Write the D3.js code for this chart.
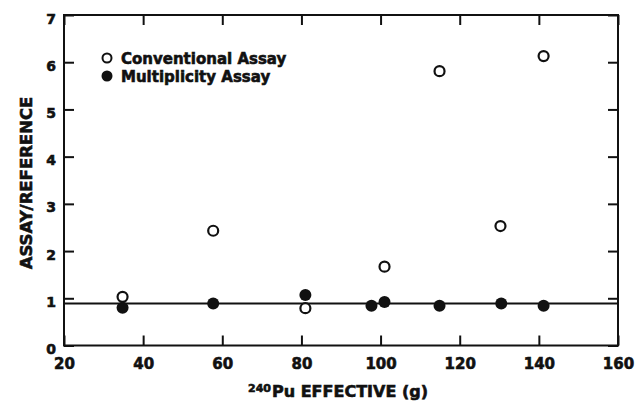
<!DOCTYPE html>
<html>
<head>
	<meta charset="utf-8">
	<script src="https://cdn.jsdelivr.net/npm/d3@7"></script>
	<style>
		body { margin: 0; background: #fff; }
		text { font-family: "DejaVu Sans", sans-serif; font-weight: bold; fill: #111; stroke: #111; stroke-width: 0.6; }
		.tick line { stroke: #111; stroke-width: 2; }
	</style>
</head>
<body>
	<svg></svg>
	<script>
		// values
		var convX = [34.8, 57.7, 81.0, 101.0, 114.9, 130.3, 141.2];
		var convY = [1.03, 2.43, 0.79, 1.67, 5.81, 2.53, 6.13];
		var multX = [34.8, 57.7, 81.0, 97.7, 101.0, 114.9, 130.5, 141.2];
		var multY = [0.80, 0.89, 1.07, 0.84, 0.92, 0.84, 0.89, 0.84];
		var refValue = 0.89;
		var xTicks = [20, 40, 60, 80, 100, 120, 140, 160];
		var yTicks = [0, 1, 2, 3, 4, 5, 6, 7];
		var legendLabels = ["Conventional Assay", "Multiplicity Assay"];

		var width = 636, height = 403;
		var plot = { "left": 64, "right": 618, "top": 15, "bottom": 345.5 };

		var svg = d3.select("svg")
			.attr("width", width)
			.attr("height", height);

		var x = d3.scaleLinear().domain([20, 160]).range([plot.left, plot.right]);
		var y = d3.scaleLinear().domain([0, 7]).range([plot.bottom, plot.top]);

		// bottom axis with labels, ticks pointing in
		var gx = svg.append("g")
			.attr("transform", "translate(0," + plot.bottom + ")")
			.call(d3.axisBottom(x).tickValues(xTicks).tickSize(-10).tickPadding(13));
		gx.selectAll("text").style("font-size", "15px");

		// top axis, ticks only
		svg.append("g")
			.attr("transform", "translate(0," + plot.top + ")")
			.call(d3.axisTop(x).tickValues(xTicks).tickSize(-10).tickFormat(""));

		// left axis with labels
		var gy = svg.append("g")
			.attr("transform", "translate(" + plot.left + ",0)")
			.call(d3.axisLeft(y).tickValues(yTicks).tickFormat(d3.format("d")).tickSize(-10).tickPadding(8));
		gy.selectAll("text").style("font-size", "14px").attr("dy", 8);

		// right axis, ticks only
		svg.append("g")
			.attr("transform", "translate(" + plot.right + ",0)")
			.call(d3.axisRight(y).tickValues(yTicks).tickSize(-10).tickFormat(""));

		svg.selectAll(".domain").remove();

		// frame
		svg.append("rect")
			.attr("x", plot.left).attr("y", plot.top)
			.attr("width", plot.right - plot.left).attr("height", plot.bottom - plot.top)
			.attr("fill", "none").attr("stroke", "#111").attr("stroke-width", 2);

		// reference line
		svg.append("line")
			.attr("x1", plot.left).attr("x2", plot.right)
			.attr("y1", y(refValue)).attr("y2", y(refValue))
			.attr("stroke", "#111").attr("stroke-width", 2);

		// conventional assay (open)
		svg.selectAll(".conv")
			.data(convX)
			.enter()
			.append("circle")
			.attr("class", "conv")
			.attr("cx", d => x(d))
			.attr("cy", (d, i) => y(convY[i]))
			.attr("r", 5)
			.attr("fill", "#fff")
			.attr("stroke", "#111")
			.attr("stroke-width", 2.2);

		// multiplicity assay (filled)
		svg.selectAll(".mult")
			.data(multX)
			.enter()
			.append("circle")
			.attr("class", "mult")
			.attr("cx", d => x(d))
			.attr("cy", (d, i) => y(multY[i]))
			.attr("r", 6)
			.attr("fill", "#111");

		// legend
		var legend = svg.append("g");
		legend.append("circle")
			.attr("cx", 107).attr("cy", 58).attr("r", 4.5)
			.attr("fill", "#fff").attr("stroke", "#111").attr("stroke-width", 2);
		legend.append("circle")
			.attr("cx", 107).attr("cy", 76).attr("r", 5.5)
			.attr("fill", "#111");
		legend.selectAll("text")
			.data(legendLabels)
			.enter()
			.append("text")
			.attr("x", 121)
			.attr("y", (d, i) => 63.5 + i * 18)
			.style("font-size", "15px")
			.text(d => d);

		// axis titles
		svg.append("text")
			.attr("transform", "translate(32,183) rotate(-90)")
			.attr("text-anchor", "middle")
			.style("font-size", "16.5px")
			.text("ASSAY/REFERENCE");

		svg.append("text")
			.attr("x", 248).attr("y", 392)
			.style("font-size", "11px")
			.text("240");
		svg.append("text")
			.attr("x", 272).attr("y", 397)
			.style("font-size", "16px")
			.text("Pu EFFECTIVE (g)");
	</script>
</body>
</html>
